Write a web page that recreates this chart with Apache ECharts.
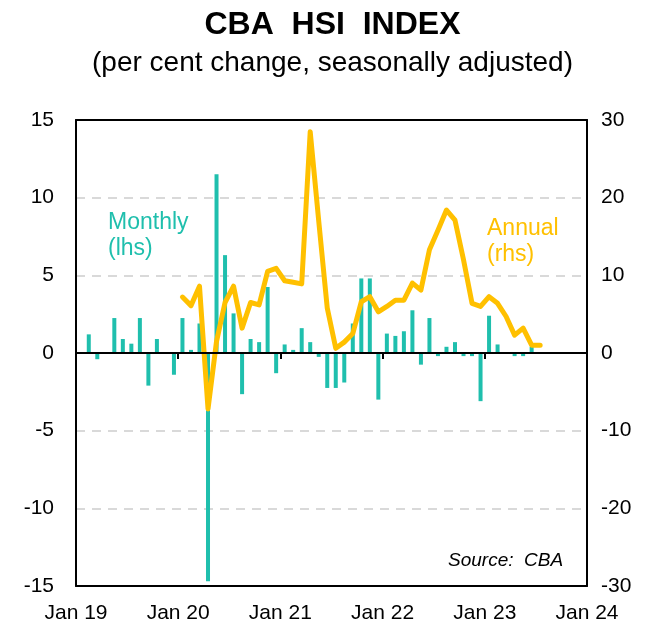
<!DOCTYPE html>
<html>
<head>
<meta charset="utf-8">
<script src="https://cdn.jsdelivr.net/npm/echarts@6/dist/echarts.min.js"></script>
<style>
  html, body { margin: 0; padding: 0; background: #fff; }
  #chart { width: 665px; height: 643px; }
</style>
</head>
<body>
<div id="chart"></div>
<script>
// monthly categories Jan 19 .. Dec 23
var years = ['19', '20', '21', '22', '23'];
var monthNames = ['Jan','Feb','Mar','Apr','May','Jun','Jul','Aug','Sep','Oct','Nov','Dec'];
var months = [];
years.forEach(function (y) {
  monthNames.forEach(function (m) { months.push(m + ' ' + y); });
});

var yearLabels = ['Jan 19', 'Jan 20', 'Jan 21', 'Jan 22', 'Jan 23', 'Jan 24'];

// monthly % change (lhs), Jan 19 .. Jul 23
var monthly = [
  0, 1.2, -0.4, 0, 2.25, 0.9, 0.6, 2.25, -2.1, 0.9, 0, -1.4,
  2.25, 0.2, 1.9, -14.7, 11.5, 6.3, 2.55, -2.65, 0.9, 0.7, 4.25, -1.3,
  0.55, 0.2, 1.6, 0.7, -0.25, -2.25, -2.25, -1.9, 1.9, 4.8, 4.8, -3.0,
  1.25, 1.1, 1.4, 2.75, -0.75, 2.25, -0.2, 0.4, 0.7, -0.2, -0.2, -3.1,
  2.4, 0.55, 0, -0.2, -0.2, 0.4, 0
];

// annual % change (rhs), Jan 20 .. Jul 23
var annual = [
  7.2, 6.1, 8.6, -7.2, 1.5, 6.5, 8.6, 3.2, 6.5, 6.2, 10.5, 10.9,
  9.3, 9.1, 8.9, 28.5, 17, 5.8, 0.6, 1.4, 2.5, 6.6, 7.25, 5.3,
  6.0, 6.8, 6.8, 9.0, 8.1, 13.3, 15.8, 18.4, 17.1, 12.0, 6.4, 6.0,
  7.25, 6.4, 4.7, 2.3, 3.2, 1.0, 1.0
];
var annualStart = 12; // first annual point is Jan 20

var annualData = months.map(function (m, i) {
  var v = annual[i - annualStart];
  return v === undefined ? null : v;
});

var teal = '#1FBFAD';
var gold = '#FFC000';
var font = 'Liberation Sans, Arial, sans-serif';

var chart = echarts.init(document.getElementById('chart'), null, { renderer: 'canvas' });

var option = {
  animation: false,
  backgroundColor: '#fff',
  textStyle: { fontFamily: font },
  title: [
    {
      text: 'CBA  HSI  INDEX',
      left: 'center',
      top: 9,
      padding: 0,
      textStyle: { fontSize: 32, fontWeight: 'bold', color: '#000', fontFamily: font }
    },
    {
      text: '(per cent change, seasonally adjusted)',
      left: 'center',
      top: 49,
      padding: 0,
      textStyle: { fontSize: 28, fontWeight: 'normal', color: '#000', fontFamily: font }
    }
  ],
  grid: { left: 76, right: 78, top: 120, bottom: 57, containLabel: false },
  xAxis: [
    {
      // data axis: line drawn at zero with year ticks
      type: 'category',
      data: months,
      boundaryGap: true,
      z: 3,
      axisLine: { onZero: true, lineStyle: { color: '#000', width: 2 } },
      axisTick: { show: true, interval: 11, length: 6, lineStyle: { color: '#000', width: 2 } },
      axisLabel: { show: false },
      splitLine: { show: false }
    },
    {
      // bottom frame + year labels
      type: 'value',
      min: 0,
      max: 60,
      interval: 12,
      position: 'bottom',
      z: 3,
      axisLine: { show: true, onZero: false, lineStyle: { color: '#000', width: 2 } },
      axisTick: { show: false },
      splitLine: { show: false },
      axisLabel: {
        margin: 17,
        fontSize: 21,
        color: '#000',
        fontFamily: font,
        formatter: function (v) { return yearLabels[Math.round(v / 12)]; }
      }
    },
    {
      // top frame
      type: 'value',
      min: 0,
      max: 60,
      position: 'top',
      z: 3,
      axisLine: { show: true, onZero: false, lineStyle: { color: '#000', width: 2 } },
      axisTick: { show: false },
      axisLabel: { show: false },
      splitLine: { show: false }
    }
  ],
  yAxis: [
    {
      type: 'value',
      min: -15,
      max: 15,
      interval: 5,
      position: 'left',
      axisLine: { show: true, onZero: false, lineStyle: { color: '#000', width: 2 } },
      axisTick: { show: false },
      axisLabel: { margin: 22, fontSize: 21, color: '#000', fontFamily: font },
      splitLine: { show: true, lineStyle: { color: '#D9D9D9', width: 2, type: [9, 7] } }
    },
    {
      type: 'value',
      min: -30,
      max: 30,
      interval: 10,
      position: 'right',
      axisLine: { show: true, onZero: false, lineStyle: { color: '#000', width: 2 } },
      axisTick: { show: false },
      axisLabel: { margin: 14, fontSize: 21, color: '#000', fontFamily: font },
      splitLine: { show: false }
    }
  ],
  graphic: [
    {
      type: 'text',
      left: 108,
      top: 210,
      style: { text: 'Monthly\n(lhs)', fill: teal, font: '23px ' + font, lineHeight: 26 }
    },
    {
      type: 'text',
      left: 487,
      top: 216,
      style: { text: 'Annual\n(rhs)', fill: gold, font: '23px ' + font, lineHeight: 26 }
    },
    {
      type: 'text',
      left: 448,
      top: 551,
      style: { text: 'Source:  CBA', fill: '#000', font: 'italic 19px ' + font }
    }
  ],
  series: [
    {
      name: 'Monthly',
      type: 'bar',
      xAxisIndex: 0,
      yAxisIndex: 0,
      data: monthly,
      barWidth: 4,
      itemStyle: { color: teal },
      z: 2
    },
    {
      name: 'Annual',
      type: 'line',
      xAxisIndex: 0,
      yAxisIndex: 1,
      data: annualData,
      showSymbol: false,
      symbol: 'none',
      connectNulls: false,
      lineStyle: { color: gold, width: 5, join: 'round', cap: 'round' },
      z: 2
    }
  ]
};

chart.setOption(option);
</script>
</body>
</html>
